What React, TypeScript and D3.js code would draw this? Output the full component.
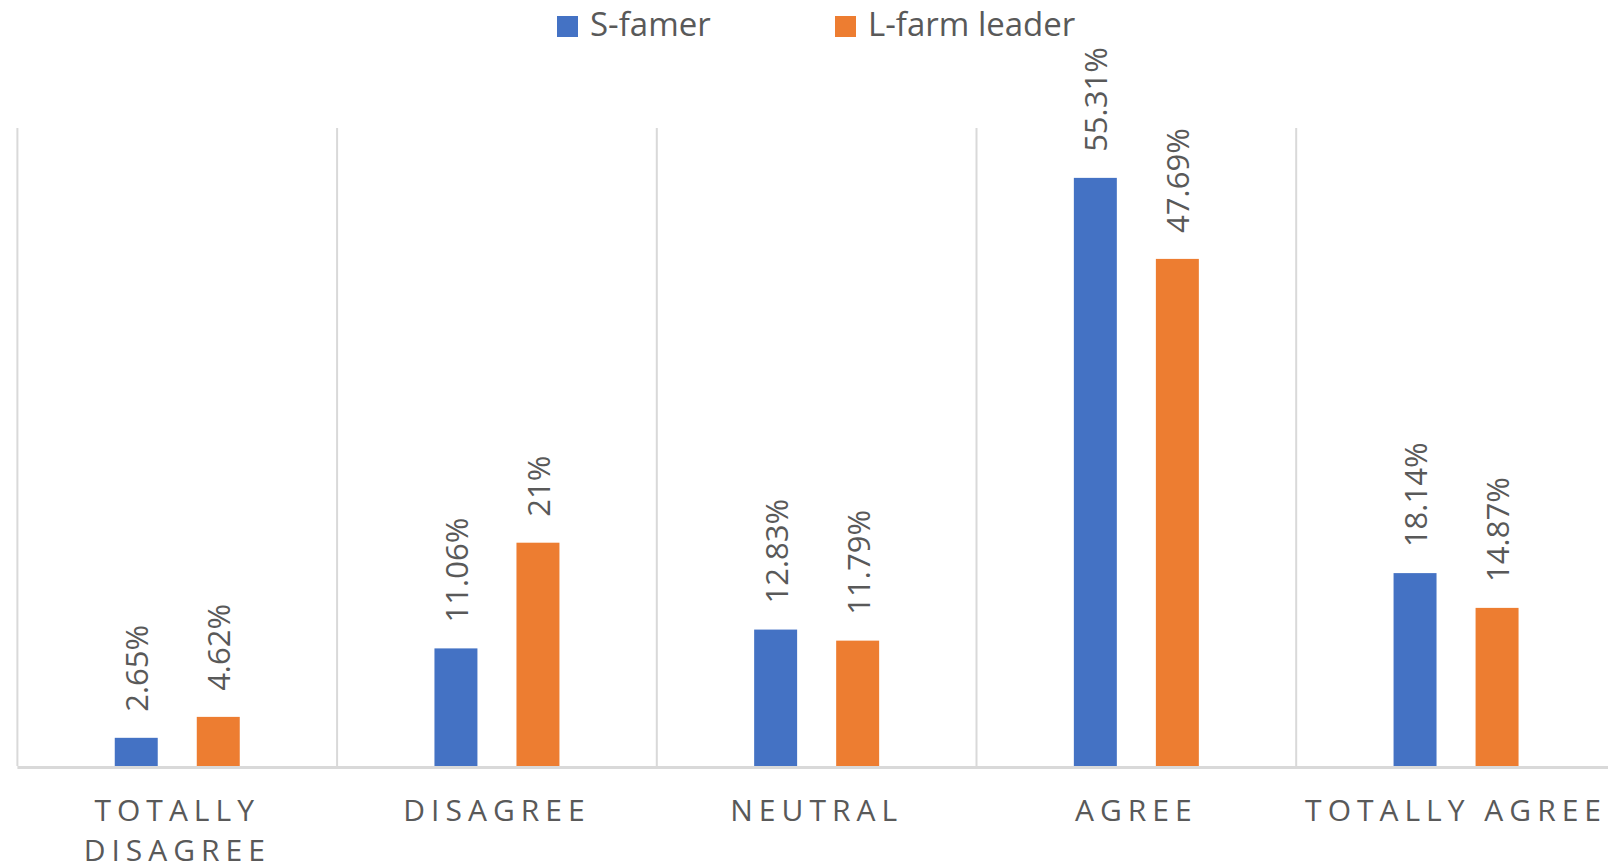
import React from "react";
import * as d3 from "d3";

// Survey responses by group (percent)
const categories = ["Totally disagree", "Disagree", "Neutral", "Agree", "Totally agree"];
const tickLabels = [["TOTALLY", "DISAGREE"], ["DISAGREE"], ["NEUTRAL"], ["AGREE"], ["TOTALLY AGREE"]];
const seriesNames = ["S-famer", "L-farm leader"];
const sFamer = [2.65, 11.06, 12.83, 55.31, 18.14];
const lFarmLeader = [4.62, 21, 11.79, 47.69, 14.87];
const seriesColors = ["#4472C4", "#ED7D31"];

const W = 1608;
const H = 868;
const FONT = "'Open Sans', 'DejaVu Sans', sans-serif";
const TEXT = "#595959";
const GRID = "#d9d9d9";

export default function App() {
  const left = 17.4;
  const band = 319.7;
  const x0 = d3
    .scaleBand<string>()
    .domain(categories)
    .range([left, left + band * categories.length])
    .padding(0);
  const x1 = d3
    .scaleBand<string>()
    .domain(seriesNames)
    .range([0, x0.bandwidth()])
    .paddingInner(0.476)
    .paddingOuter(1.187);
  const y = d3.scaleLinear().domain([0, 60]).range([766, 128]);

  const values = [sFamer, lFarmLeader];
  const fmt = (v: number) => `${+v.toFixed(2)}%`;

  const boundaries = categories.map((c) => x0(c) as number).concat([x0.range()[1]]);

  return (
    <svg
      width={W}
      height={H}
      viewBox={`0 0 ${W} ${H}`}
      style={{ position: "absolute", left: 0, top: 0, background: "#fff" }}
    >
      <rect x={0} y={0} width={W} height={H} fill="#fff" />

      {/* legend */}
      {seriesNames.map((name, i) => {
        const lx = [557, 835][i];
        return (
          <g key={name}>
            <rect x={lx} y={16} width={21} height={21} fill={seriesColors[i]} />
            <text x={lx + 33} y={36} fontFamily={FONT} fontSize={33} fill={TEXT}>
              {name}
            </text>
          </g>
        );
      })}

      {/* vertical category separators */}
      {boundaries.map((bx, i) => (
        <line key={i} x1={bx} x2={bx} y1={y(60)} y2={y(0)} stroke={GRID} strokeWidth={2} />
      ))}

      {/* bars */}
      {categories.map((c, ci) => (
        <g key={c} transform={`translate(${x0(c)},0)`}>
          {seriesNames.map((s, si) => {
            const v = values[si][ci];
            const bx = x1(s) as number;
            return (
              <rect
                key={s}
                x={bx}
                y={y(v)}
                width={x1.bandwidth()}
                height={y(0) - y(v)}
                fill={seriesColors[si]}
              />
            );
          })}
        </g>
      ))}

      {/* axis line */}
      <line x1={left} x2={W + 20} y1={767.5} y2={767.5} stroke={GRID} strokeWidth={3} />

      {/* value labels */}
      {categories.map((c, ci) =>
        seriesNames.map((s, si) => {
          const v = values[si][ci];
          const cx = (x0(c) as number) + (x1(s) as number) + x1.bandwidth() / 2;
          const ty = y(v) - 26;
          return (
            <text
              key={c + s}
              transform={`translate(${cx},${ty}) rotate(-90)`}
              textAnchor="start"
              dominantBaseline="central"
              fontFamily={FONT}
              fontSize={31}
              fill={TEXT}
            >
              {fmt(v)}
            </text>
          );
        })
      )}

      {/* category labels */}
      {categories.map((c, ci) => {
        const cx = (x0(c) as number) + x0.bandwidth() / 2;
        return (
          <text
            key={c}
            x={cx}
            y={821}
            textAnchor="middle"
            fontFamily={FONT}
            fontSize={30}
            letterSpacing={6}
            fill={TEXT}
          >
            {tickLabels[ci].map((line, li) => (
              <tspan key={li} x={cx} dy={li === 0 ? 0 : 39.5}>
                {line}
              </tspan>
            ))}
          </text>
        );
      })}
    </svg>
  );
}
